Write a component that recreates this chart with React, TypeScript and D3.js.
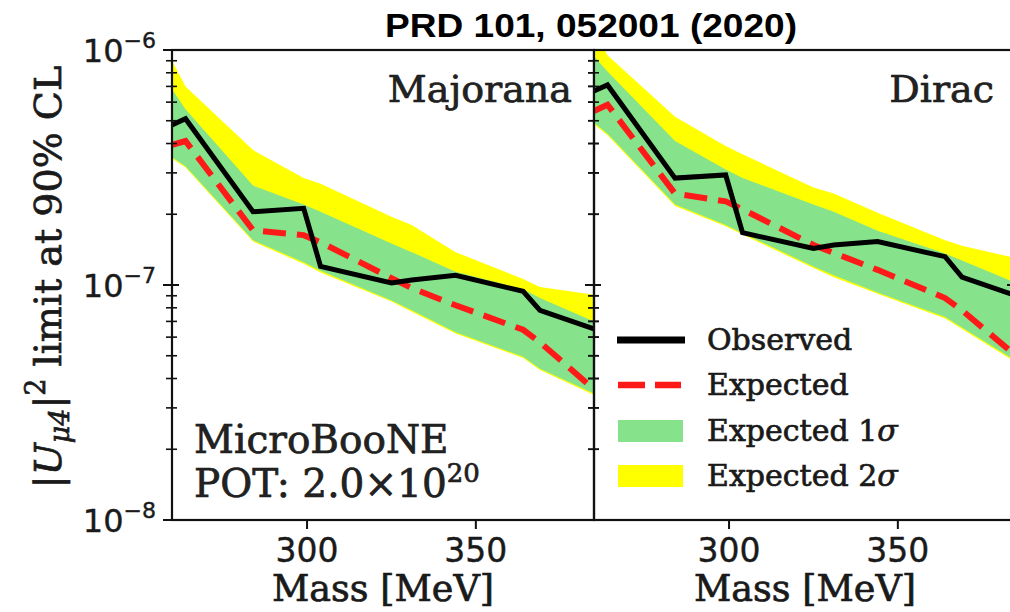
import React from "react";
import * as d3 from "d3";

// ---------- data ----------
const MASS = [260, 264, 284, 299, 304, 325, 331, 344, 364, 369, 385];

const majObs = [4.8e-7, 5.1e-7, 2.05e-7, 2.12e-7, 1.2e-7, 1.02e-7, 1.05e-7, 1.1e-7, 9.4e-8, 7.8e-8, 6.5e-8];
const majExp = [3.95e-7, 4.1e-7, 1.71e-7, 1.63e-7, 1.52e-7, 1.07e-7, 9.7e-8, 8.2e-8, 6.45e-8, 5.7e-8, 3.6e-8];
const maj1Hi = [6.8e-7, 5.6e-7, 2.65e-7, 2.2e-7, 2.05e-7, 1.5e-7, 1.38e-7, 1.14e-7, 9.6e-8, 8.8e-8, 7.0e-8];
const maj1Lo = [3.5e-7, 3.2e-7, 1.55e-7, 1.25e-7, 1.15e-7, 8.6e-8, 7.8e-8, 6.3e-8, 4.95e-8, 4.4e-8, 3.45e-8];
const maj2Hi = [9.0e-7, 7.0e-7, 3.75e-7, 2.85e-7, 2.7e-7, 1.95e-7, 1.8e-7, 1.38e-7, 1.06e-7, 9.8e-8, 9.1e-8];
const maj2Lo = [3.45e-7, 3.16e-7, 1.53e-7, 1.23e-7, 1.13e-7, 8.5e-8, 7.7e-8, 6.22e-8, 4.89e-8, 4.35e-8, 3.4e-8];

const dirObs = [6.7e-7, 7.1e-7, 2.85e-7, 2.94e-7, 1.67e-7, 1.43e-7, 1.48e-7, 1.53e-7, 1.32e-7, 1.08e-7, 9.0e-8];
const dirExp = [5.5e-7, 5.85e-7, 2.45e-7, 2.27e-7, 2.1e-7, 1.48e-7, 1.37e-7, 1.16e-7, 8.8e-8, 7.8e-8, 5.0e-8];
const dir1Hi = [9.4e-7, 8.1e-7, 4.1e-7, 3.1e-7, 2.85e-7, 2.2e-7, 2.05e-7, 1.7e-7, 1.36e-7, 1.27e-7, 1.02e-7];
const dir1Lo = [4.9e-7, 4.4e-7, 2.2e-7, 1.8e-7, 1.66e-7, 1.2e-7, 1.1e-7, 9.3e-8, 7.3e-8, 6.6e-8, 4.75e-8];
const dir2Hi = [1.2e-6, 9.5e-7, 5.2e-7, 3.9e-7, 3.6e-7, 2.6e-7, 2.45e-7, 2.03e-7, 1.55e-7, 1.47e-7, 1.3e-7];
const dir2Lo = [4.83e-7, 4.34e-7, 2.17e-7, 1.78e-7, 1.64e-7, 1.18e-7, 1.08e-7, 9.18e-8, 7.2e-8, 6.5e-8, 4.68e-8];

const X_TICKS = [300, 350];
const Y_MAJOR = [1e-8, 1e-7, 1e-6];
const Y_MAJOR_LABELS = ["−8", "−7", "−6"];

const PANELS = [
  { name: "Majorana", obs: majObs, exp: majExp, s1hi: maj1Hi, s1lo: maj1Lo, s2hi: maj2Hi, s2lo: maj2Lo },
  { name: "Dirac", obs: dirObs, exp: dirExp, s1hi: dir1Hi, s1lo: dir1Lo, s2hi: dir2Hi, s2lo: dir2Lo },
];

// ---------- style ----------
const W = 1010;
const H = 612;
const TOP = 50;
const BOTTOM = 520;
const PANEL_X = [172, 594];
const PANEL_W = 422;
const GREEN = "#86e38c";
const YELLOW = "#ffff00";
const RED = "#ff1a1a";
const SERIF = "'DejaVu Serif', serif";
const SANS = "'DejaVu Sans', sans-serif";
const INK = "#1a1a1a";

const yScale = d3.scaleLog().domain([1e-8, 1e-6]).range([BOTTOM, TOP]);

function minorTicks(): number[] {
  const out: number[] = [];
  for (const dec of [1e-8, 1e-7]) for (let k = 2; k <= 9; k++) out.push(k * dec);
  return out;
}

const heavy = { stroke: INK, strokeWidth: 0.7 };

function Panel({ p, i }: { p: (typeof PANELS)[number]; i: number }) {
  const x0 = PANEL_X[i];
  const x = d3.scaleLinear().domain([260, 385]).range([x0, x0 + PANEL_W]);
  const idx = d3.range(MASS.length);
  const band = (lo: number[], hi: number[]) =>
    d3
      .area<number>()
      .x((j) => x(MASS[j]))
      .y0((j) => yScale(lo[j]))
      .y1((j) => yScale(hi[j]))(idx) || "";
  const line = (v: number[]) =>
    d3
      .line<number>()
      .x((j) => x(MASS[j]))
      .y((j) => yScale(v[j]))(idx) || "";
  const clipId = `clip${i}`;
  return (
    <g>
      <defs>
        <clipPath id={clipId}>
          <rect x={x0} y={TOP} width={PANEL_W} height={BOTTOM - TOP} />
        </clipPath>
      </defs>
      <g clipPath={`url(#${clipId})`}>
        <path d={band(p.s2lo, p.s2hi)} fill={YELLOW} />
        <path d={band(p.s1lo, p.s1hi)} fill={GREEN} />
        <path d={line(p.exp)} fill="none" stroke={RED} strokeWidth={6} strokeDasharray="23,11" />
        <path d={line(p.obs)} fill="none" stroke="#000" strokeWidth={5} strokeLinejoin="miter" />
      </g>
      {/* frame */}
      <rect x={x0} y={TOP} width={PANEL_W} height={BOTTOM - TOP} fill="none" stroke="#111" strokeWidth={2.2} />
      {/* y ticks on both sides */}
      {[x0, x0 + PANEL_W].map((sx, k) => (
        <g key={k}>
          {Y_MAJOR.map((v) => (
            <line key={v} x1={sx - 9} x2={sx + 7} y1={yScale(v)} y2={yScale(v)} stroke="#111" strokeWidth={2} />
          ))}
          {minorTicks().map((v) => (
            <line key={v} x1={sx - 6} x2={sx + 5} y1={yScale(v)} y2={yScale(v)} stroke="#111" strokeWidth={1.6} />
          ))}
        </g>
      ))}
      {/* x ticks */}
      {X_TICKS.map((t) => (
        <g key={t}>
          <line x1={x(t)} x2={x(t)} y1={BOTTOM} y2={BOTTOM + 9} stroke="#111" strokeWidth={2} />
          <text x={x(t)} y={562} textAnchor="middle" fontFamily={SANS} fontSize={33} fill={INK} {...heavy} strokeWidth={0.4}>
            {t}
          </text>
        </g>
      ))}
      <text x={x0 + PANEL_W / 2} y={601} textAnchor="middle" fontFamily={SERIF} fontSize={36.5} fill={INK} {...heavy}>
        Mass [MeV]
      </text>
      <text x={x0 + PANEL_W - 22} y={102} textAnchor="end" fontFamily={SERIF} fontSize={38} fill="#222" {...heavy}>
        {p.name}
      </text>
    </g>
  );
}

export default function App() {
  const lx = 617;
  const rows = [340, 385, 431, 476];
  return (
    <div style={{ position: "fixed", left: 0, top: 0, width: W, height: H, background: "#fff" }}>
      <svg width={W} height={H} viewBox={`0 0 ${W} ${H}`} style={{ display: "block" }}>
        <rect width={W} height={H} fill="#fff" />
        {PANELS.map((p, i) => (
          <Panel key={p.name} p={p} i={i} />
        ))}
        {/* y tick labels */}
        {Y_MAJOR.map((v, k) => (
          <text key={v} x={156} y={yScale(v) + 12} textAnchor="end" fontFamily={SANS} fontSize={32} fill={INK} {...heavy} strokeWidth={0.4}>
            10
            <tspan fontSize={22} dy={-14}>
              {Y_MAJOR_LABELS[k]}
            </tspan>
          </text>
        ))}
        {/* y axis label */}
        <text
          transform={`translate(61,277) rotate(-90)`}
          textAnchor="middle"
          fontFamily={SERIF}
          fontSize={38}
          fill={INK}
          {...heavy}
        >
          |<tspan fontStyle="italic">U</tspan>
          <tspan fontSize={27} dy={8} fontStyle="italic">μ4</tspan>
          <tspan dy={-8}>|</tspan>
          <tspan fontSize={27} dy={-16}>2</tspan>
          <tspan dy={16}> limit at 90% CL</tspan>
        </text>
        {/* title */}
        <text x={591} y={37} textAnchor="middle" fontFamily="'Liberation Sans', Arial, sans-serif" fontWeight="bold" fontSize={34} textLength={412} lengthAdjust="spacingAndGlyphs" fill="#000">
          PRD 101, 052001 (2020)
        </text>
        {/* experiment label */}
        <text x={194} y={453} fontFamily={SERIF} fontSize={39} fill="#222" {...heavy}>
          MicroBooNE
        </text>
        <text x={194} y={497} fontFamily={SERIF} fontSize={39} fill="#222" {...heavy}>
          POT: 2.0×10
          <tspan fontSize={26} dy={-15}>20</tspan>
        </text>
        {/* legend */}
        <line x1={lx} x2={lx + 68} y1={rows[0]} y2={rows[0]} stroke="#000" strokeWidth={7} />
        <line x1={lx + 1} x2={lx + 64} y1={rows[1]} y2={rows[1]} stroke={RED} strokeWidth={6.5} strokeDasharray="27,10" />
        <rect x={lx + 1} y={rows[2] - 11} width={65} height={22} fill={GREEN} />
        <rect x={lx + 1} y={rows[3] - 11} width={65} height={22} fill={YELLOW} />
        {["Observed", "Expected", "Expected 1", "Expected 2"].map((t, k) => (
          <text key={t} x={707} y={rows[k] + 10} fontFamily={SERIF} fontSize={30} fill={INK} {...heavy}>
            {t}
            {k >= 2 ? <tspan fontStyle="italic">σ</tspan> : null}
          </text>
        ))}
      </svg>
    </div>
  );
}
